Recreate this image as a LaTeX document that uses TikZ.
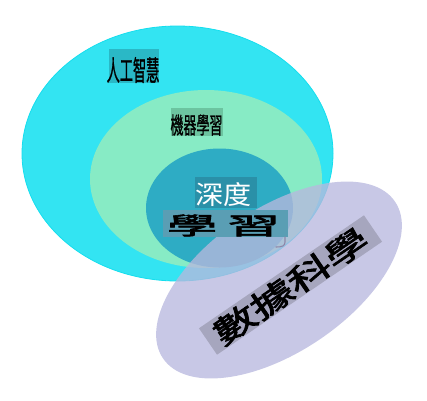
\documentclass[tikz,border=0pt]{standalone}
\usepackage{fontspec}
\newfontfamily\cjk{Noto Sans CJK TC}
\newfontfamily\cjkb[FakeBold=1.2]{Noto Sans CJK TC}
\newfontfamily\cjkbb[FakeBold=2.2]{Noto Sans CJK TC}
\definecolor{aicyan}{RGB}{51,228,242}
\definecolor{aiedge}{RGB}{20,222,238}
\definecolor{mlgreen}{RGB}{135,235,197}
\definecolor{dlteal}{RGB}{46,172,196}
\definecolor{dslav}{RGB}{184,184,222}
\definecolor{aibox}{RGB}{42,184,198}
\definecolor{mlbox}{RGB}{108,196,160}
\definecolor{dlboxa}{RGB}{42,144,168}
\definecolor{dlboxb}{RGB}{90,158,180}
\definecolor{dsbox}{RGB}{166,166,190}
\definecolor{hook}{RGB}{142,134,168}
\tikzset{
  labbox/.style={inner sep=0pt, outer sep=0pt, draw=none},
  labtext/.style={inner sep=0pt, outer sep=0pt, font=\cjk, text=black},
}
\begin{document}
\begin{tikzpicture}[x=1pt,y=-1pt]
\useasboundingbox (0,0) rectangle (427,400);
% circles
\fill[aicyan, draw=aiedge, line width=0.8pt] (177.5,153.5) ellipse [x radius=155.5pt, y radius=127.5pt];
\fill[mlgreen] (206,179) ellipse [x radius=116pt, y radius=89pt];
\fill[dlteal] (219.5,208) ellipse [x radius=73.5pt, y radius=59.5pt];
\fill[dslav, fill opacity=0.77, rotate around={34:(279,280)}] (279,280) ellipse [x radius=140pt, y radius=72pt];
% label boxes
\node[labbox, fill=aibox, minimum width=50pt, minimum height=34pt] (aib) at (134,66) {};
\node[labtext, font=\cjkb\fontsize{28}{28}\selectfont] (ai) at (133,70) {\scalebox{0.47}[1]{人工智慧}};
\node[labbox, fill=mlbox, minimum width=52pt, minimum height=28pt] (mlb) at (197,122) {};
\node[labtext, font=\cjkb\fontsize{23}{23}\selectfont] (ml) at (196.5,125) {\scalebox{0.565}[1]{機器學習}};
\node[labbox, fill=dlboxa, minimum width=62pt, minimum height=31pt] (dlb1) at (226,192.5) {};
\node[labtext, text=white, font=\cjk\fontsize{26}{26}\selectfont] (dl1) at (223.5,195) {\scalebox{1.08}[1]{深度}};
\node[labbox, fill=dlboxb, minimum width=125pt, minimum height=27pt] (dlb2) at (225.5,223.5) {};
\node[labtext, font=\cjkbb\fontsize{24}{24}\selectfont] (dl2) at (223.5,225.5) {\scalebox{2.1}[1]{學}\hspace{10pt}\scalebox{2.2}[1]{習}};
\node[labbox, fill=dsbox, minimum width=200pt, minimum height=32pt, rotate=34.4] (dsb) at (290.5,285) {};
\node[labtext, rotate=34.4, font=\cjkbb\fontsize{31}{31}\selectfont] (ds) at (290.5,286) {\scalebox{1.45}[1]{數據科學}};
% small hook
\coordinate (h1) at (285,237);
\coordinate (h2) at (276,247);
\draw[hook, line width=1.1pt, line cap=round] (h1) -- ++(0,5) .. controls (285,246) and (282,247) .. (h2);
\end{tikzpicture}
\end{document}
